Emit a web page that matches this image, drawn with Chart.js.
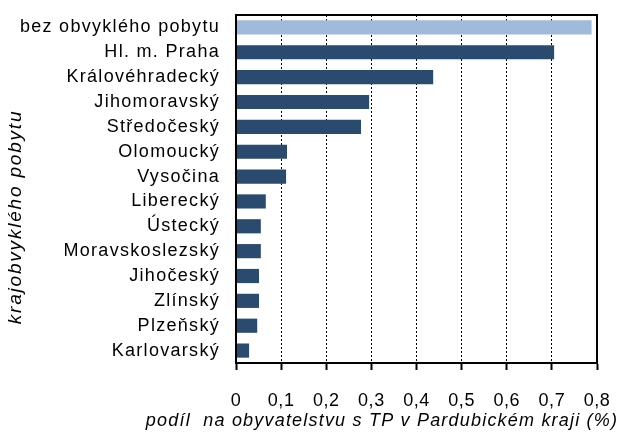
<!DOCTYPE html>
<html>
<head>
<meta charset="utf-8">
<script src="https://cdn.jsdelivr.net/npm/chart.js@4.4.1/dist/chart.umd.min.js"></script>
<style>
  html, body { margin: 0; padding: 0; background: #fff; }
  #wrap { width: 622px; height: 441px; }
</style>
</head>
<body>
<div id="wrap"><canvas id="c" width="622" height="441"></canvas></div>
<script>
// ---- data ---------------------------------------------------------------
const REGIONS = [
    'bez obvyklého pobytu', 'Hl. m. Praha', 'Královéhradecký', 'Jihomoravský',
    'Středočeský', 'Olomoucký', 'Vysočina', 'Liberecký', 'Ústecký',
    'Moravskoslezský', 'Jihočeský', 'Zlínský', 'Plzeňský', 'Karlovarský'
];
const SHARES = [0.788, 0.705, 0.437, 0.295, 0.277, 0.113, 0.111, 0.066, 0.055, 0.055, 0.051, 0.051, 0.047, 0.029];
const X_TICKS = [0, 0.1, 0.2, 0.3, 0.4, 0.5, 0.6, 0.7, 0.8];
const X_TITLE = 'podíl  na obyvatelstvu s TP v Pardubickém kraji (%)';
const Y_TITLE = 'krajobvyklého pobytu';

const LIGHT = '#9fbadb';
const DARK = '#2b4a6f';
const FONT = "'Liberation Sans', Arial, sans-serif";

Chart.defaults.font.family = FONT;
Chart.defaults.color = '#000';

const fmt = v => v === 0 ? '0' : v.toFixed(1).replace('.', ',');

// wider letter spacing for the tick labels, like the original export
const LABEL_SPACING = { x: '0.5px', y: '1.3px' };

const spacingPlugin = {
    id: 'spacing',
    beforeDraw(chart) {
        Object.keys(LABEL_SPACING).forEach(id => {
            const s = chart.scales[id];
            if (s._spaced) return;
            const orig = s.drawLabels;
            s.drawLabels = function (area) {
                this.ctx.save();
                this.ctx.letterSpacing = LABEL_SPACING[id];
                orig.call(this, area);
                this.ctx.restore();
            };
            s._spaced = true;
        });
    }
};

// frame round the plot area + axis titles
const framePlugin = {
    id: 'frame',
    afterDraw(chart) {
        const { ctx, chartArea: a } = chart;
        ctx.save();
        ctx.strokeStyle = '#000';
        ctx.lineWidth = 2;
        ctx.strokeRect(a.left, a.top, a.right - a.left, a.bottom - a.top);

        ctx.fillStyle = '#000';
        ctx.textAlign = 'center';
        ctx.textBaseline = 'alphabetic';
        ctx.font = `italic 18px ${FONT}`;
        ctx.letterSpacing = '1.2px';
        ctx.fillText(X_TITLE, 382, 426);

        ctx.font = `italic 19px ${FONT}`;
        ctx.letterSpacing = '1.8px';
        ctx.translate(21, 217);
        ctx.rotate(-Math.PI / 2);
        ctx.fillText(Y_TITLE, 0, 0);
        ctx.restore();
    }
};

new Chart(document.getElementById('c'), {
    type: 'bar',
    data: {
        labels: REGIONS,
        datasets: [{
            data: SHARES,
            backgroundColor: SHARES.map((_, i) => i === 0 ? LIGHT : DARK),
            categoryPercentage: 1,
            barPercentage: 0.57,
        }]
    },
    options: {
        indexAxis: 'y',
        responsive: false,
        animation: false,
        layout: { padding: { left: 0, right: 25, top: 15, bottom: 0 } },
        plugins: { legend: { display: false }, tooltip: { enabled: false } },
        scales: {
            x: {
                min: 0,
                max: 0.8,
                afterBuildTicks: s => { s.ticks = X_TICKS.map(v => ({ value: v })); },
                afterFit: s => { s.height = 78; s.paddingLeft = 0; s.paddingRight = 0; },
                grid: { color: '#000', lineWidth: 1, tickLength: 7, tickColor: '#000', tickWidth: 2, tickBorderDash: [] },
                border: { display: true, color: '#000', width: 2, dash: [2, 2] },
                ticks: { padding: 20, font: { size: 18 }, callback: v => fmt(v), maxRotation: 0 },
            },
            y: {
                afterFit: s => { s.width = 236; s.paddingTop = 0; s.paddingBottom = 0; },
                grid: { display: false },
                border: { display: true, color: '#000', width: 2 },
                ticks: { padding: 8, font: { size: 18 }, autoSkip: false },
            }
        }
    },
    plugins: [spacingPlugin, framePlugin]
});
</script>
</body>
</html>
